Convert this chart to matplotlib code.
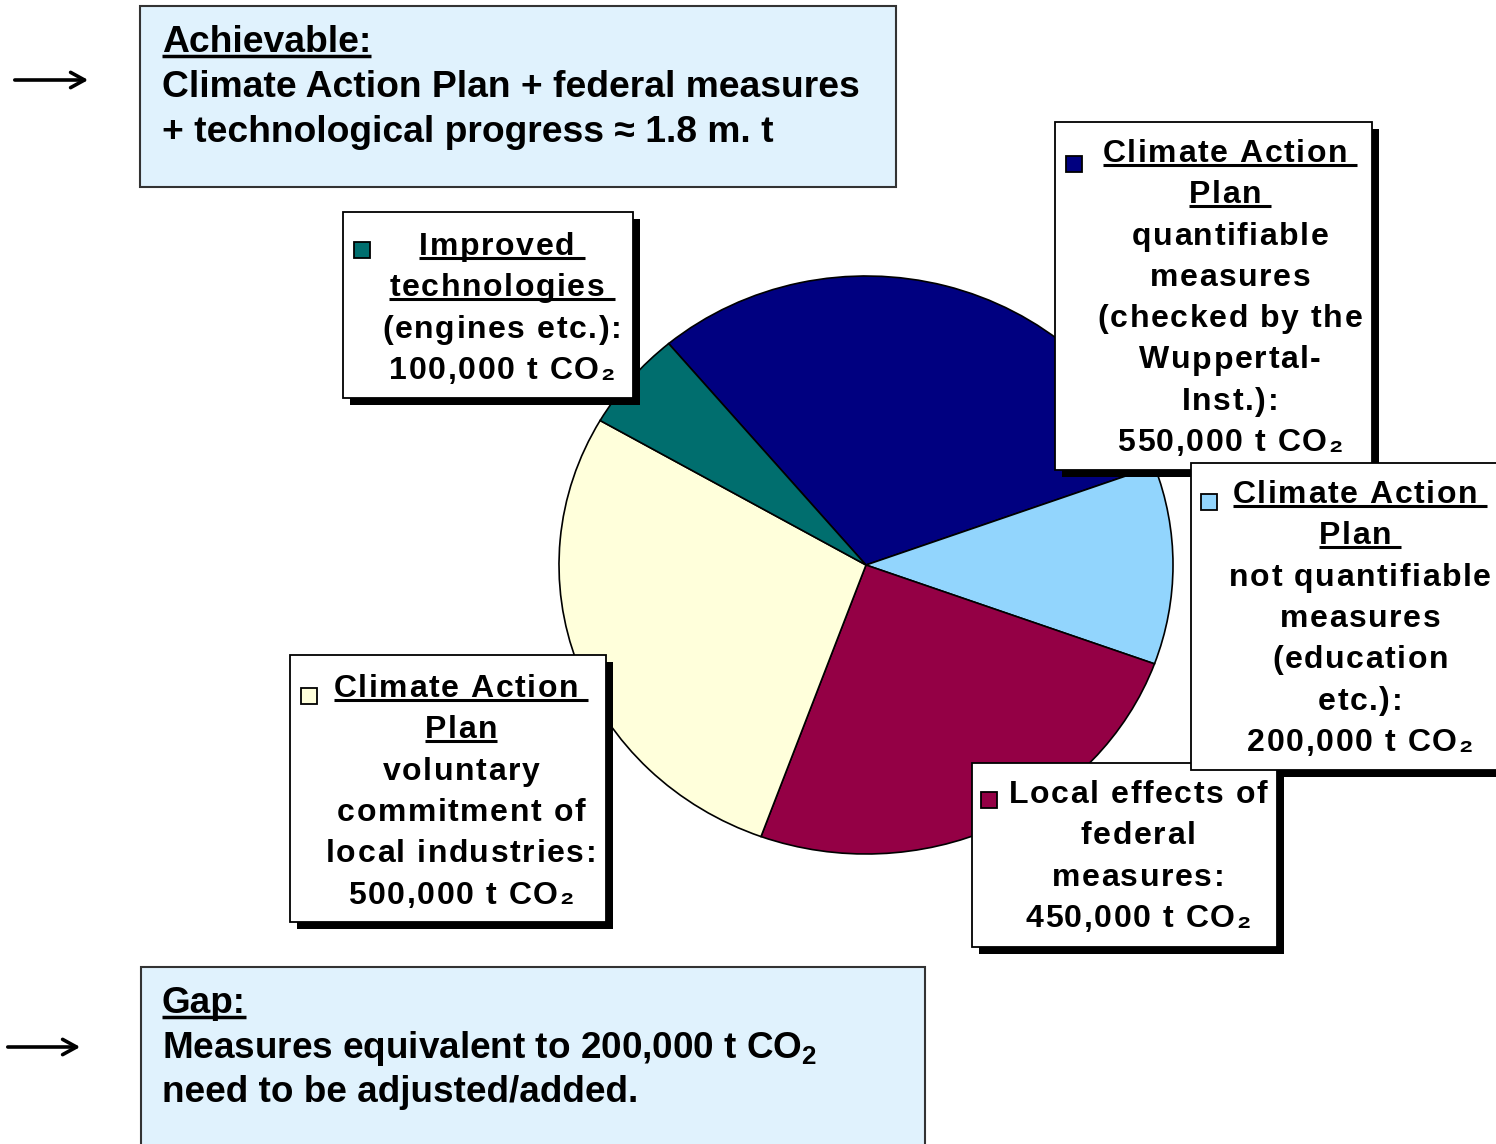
import matplotlib
matplotlib.use('Agg')
import matplotlib.pyplot as plt
from matplotlib.patches import Rectangle
from matplotlib.font_manager import FontProperties

# pie data (t CO2), clockwise from the top
categories = ['CAP quantifiable', 'CAP not quantifiable', 'Federal measures',
              'CAP voluntary industry', 'Improved technologies']
values = [550000, 200000, 450000, 500000, 100000]
colors = ['#000080', '#92D5FD', '#940045', '#FFFFDB', '#006E6E']

# label box texts (first n lines underlined)
label_texts = {
    'CAP quantifiable': ['Climate Action ', 'Plan ', 'quantifiable', 'measures',
                         '(checked by the', 'Wuppertal-', 'Inst.):', '550,000 t CO₂'],
    'CAP not quantifiable': ['Climate Action ', 'Plan ', 'not quantifiable', 'measures',
                             '(education', 'etc.):', '200,000 t CO₂'],
    'Federal measures': ['Local effects of', 'federal', 'measures:', '450,000 t CO₂'],
    'CAP voluntary industry': ['Climate Action ', 'Plan', 'voluntary', 'commitment of',
                               'local industries:', '500,000 t CO₂'],
    'Improved technologies': ['Improved ', 'technologies ', '(engines etc.):',
                              '100,000 t CO₂'],
}
n_underlined = {'CAP quantifiable': 2, 'CAP not quantifiable': 2, 'Federal measures': 0,
                'CAP voluntary industry': 2, 'Improved technologies': 2}

top_title = 'Achievable:'
top_lines = ['Climate Action Plan + federal measures',
             '+ technological progress ≈ 1.8 m. t']
gap_title = 'Gap:'
gap_lines = ['Measures equivalent to 200,000 t CO$_\\mathbf{2}$',
             'need to be adjusted/added.']

W, H = 1496, 1144
fig = plt.figure(figsize=(W / 100, H / 100), dpi=100)
plt.rcParams['mathtext.fontset'] = 'custom'
plt.rcParams['mathtext.bf'] = 'Liberation Sans:bold'

# pie, slightly wider than tall
pax = fig.add_axes([559 / W, 1 - 854 / H, 614 / W, 578 / H])
pax.pie(values, colors=colors, startangle=130, counterclock=False,
        wedgeprops=dict(edgecolor='black', linewidth=1.2))
pax.set_aspect('auto')
pax.set_xlim(-1, 1)
pax.set_ylim(-1, 1)
pax.axis('off')

# overlay in pixel coordinates
ax = fig.add_axes([0, 0, 1, 1], zorder=5)
ax.set_xlim(0, W)
ax.set_ylim(H, 0)
ax.axis('off')
ax.patch.set_visible(False)

label_font = ['Liberation Sans', 'DejaVu Sans']
renderer = fig.canvas.get_renderer()


def spaced_text(cx, y, s, size, spacing, underline=False):
    ''' centered bold text with extra letter spacing (pixels) '''
    fp = FontProperties(family=label_font, weight='bold', size=size)
    widths = [renderer.get_text_width_height_descent(ch, fp, ismath=False)[0]
              for ch in s]
    total = sum(widths) + spacing * (len(s) - 1)
    x = cx - total / 2
    for ch, w in zip(s, widths):
        ax.text(x, y, ch, ha='left', va='baseline', fontproperties=fp, zorder=4)
        x += w + spacing
    if underline:
        ax.plot([cx - total / 2, cx + total / 2], [y + 3, y + 3], color='black',
                lw=2.2, zorder=4, solid_capstyle='butt')


def draw_label(key, box, marker, cx, y0, step=41.3, size=23, spacing=1.6):
    x0, y0b, x1, y1 = box
    ax.add_patch(Rectangle((x0 + 7, y0b + 7), x1 - x0, y1 - y0b, facecolor='black',
                           edgecolor='none', zorder=1))
    ax.add_patch(Rectangle((x0, y0b), x1 - x0, y1 - y0b, facecolor='white',
                           edgecolor='black', linewidth=1.3, zorder=2))
    color = colors[categories.index(key)]
    ax.add_patch(Rectangle((marker[0] - 8, marker[1] - 8), 16, 16, facecolor=color,
                           edgecolor='black', linewidth=1.3, zorder=3))
    for i, line in enumerate(label_texts[key]):
        spaced_text(cx, y0 + i * step, line, size, spacing,
                    underline=i < n_underlined[key])


def draw_note(box, title, lines, tx, ty, step, size, arrow_y, arrow_x):
    x0, y0b, x1, y1 = box
    ax.add_patch(Rectangle((x0, y0b), x1 - x0, y1 - y0b, facecolor='#E0F2FD',
                           edgecolor='#333333', linewidth=1.5, zorder=1))
    t = ax.text(tx, ty, title, ha='left', va='baseline', fontsize=size,
                fontweight='bold', family=label_font, zorder=4)
    bb = t.get_window_extent(renderer=renderer)
    xa, xb = ax.transData.inverted().transform([(bb.x0, 0), (bb.x1, 0)])[:, 0]
    ax.plot([xa, xb], [ty + 4, ty + 4], color='black', lw=2.5, zorder=4,
            solid_capstyle='butt')
    for i, line in enumerate(lines):
        ax.text(tx, ty + (i + 1) * step, line, ha='left', va='baseline', fontsize=size,
                fontweight='bold', family=label_font, zorder=4)
    ax.annotate('', xy=(arrow_x[1], arrow_y), xytext=(arrow_x[0], arrow_y),
                arrowprops=dict(arrowstyle='->,head_length=1.0,head_width=0.55',
                                color='black', lw=2.6))


draw_note((140, 6, 896, 187), top_title, top_lines, 162, 52, 45, 26.8, 80, (12, 91))
draw_note((141, 967, 925, 1160), gap_title, gap_lines, 162, 1013, 44.5, 26.6, 1047, (5, 83))

draw_label('Improved technologies', (343, 212, 633, 398), (362, 250), 502, 255)
draw_label('CAP voluntary industry', (290, 655, 606, 922), (309, 696), 461, 697)
draw_label('Federal measures', (972, 763, 1277, 947), (989, 800), 1138, 803)
draw_label('CAP quantifiable', (1055, 122, 1372, 470), (1074, 164), 1230, 162)
draw_label('CAP not quantifiable', (1191, 463, 1510, 770), (1209, 502), 1360, 503)

fig.savefig('out.png', dpi=100)
